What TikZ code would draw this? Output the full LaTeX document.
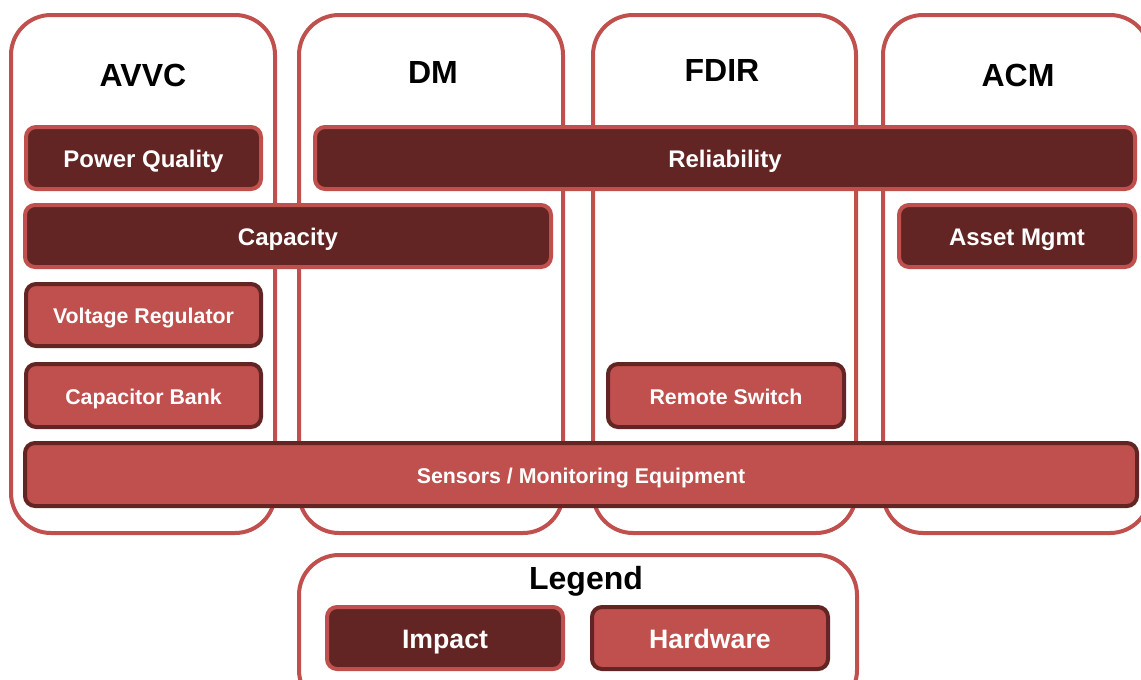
\documentclass[tikz,border=0pt]{standalone}
\usepackage{fontspec}
\setmainfont{Liberation Sans}
\definecolor{lightred}{HTML}{C0504D}
\definecolor{darkred}{HTML}{632523}
\tikzset{
  column/.style={draw=lightred, line width=3pt, rounded corners=30pt, fill=white},
  impact/.style={draw=lightred, line width=3pt, rounded corners=7.5pt, fill=darkred},
  hardware/.style={draw=darkred, line width=3pt, rounded corners=7.5pt, fill=lightred},
  title/.style={font=\fontsize{24}{28}\selectfont\bfseries, text=black},
  boxtext/.style={text=white, text depth=0pt},
  midtext/.style={boxtext, font=\fontsize{18}{21}\selectfont\bfseries, text height=14.4pt},
  smalltext/.style={boxtext, font=\fontsize{16}{19}\selectfont\bfseries, text height=12.8pt},
  bigtext/.style={boxtext, font=\fontsize{20}{24}\selectfont\bfseries, text height=16pt}
}
\begin{document}
\begin{tikzpicture}[x=0.75pt,y=-0.75pt]
    \useasboundingbox (0,0) rectangle (1141,679);
    %% Columns
    \draw[column] (11,15) rectangle (275,533);
    \draw[column] (299,15) rectangle (563,533);
    \draw[column] (593,15) rectangle (856,533);
    \draw[column] (883,15) rectangle (1150,533);
    \node[title] (avvc) at (143,75) {AVVC};
    \node[title] (dm) at (433,72) {DM};
    \node[title] (fdir) at (722,70) {FDIR};
    \node[title] (acm) at (1018,75) {ACM};
    %% Impact boxes
    \draw[impact] (26,127) rectangle node[midtext] (pq) {Power Quality} (261,189);
    \draw[impact] (315,127) rectangle node[midtext] (rel) {Reliability} (1135,189);
    \draw[impact] (25,205) rectangle node[midtext] (cap) {Capacity} (551,267);
    \draw[impact] (899,205) rectangle node[midtext] (asset) {Asset Mgmt} (1135,267);
    %% Hardware boxes
    \draw[hardware] (26,284) rectangle node[smalltext] (vreg) {Voltage Regulator} (261,346);
    \draw[hardware] (26,364) rectangle node[smalltext] (cbank) {Capacitor Bank} (261,427);
    \draw[hardware] (608,364) rectangle node[smalltext] (rswitch) {Remote Switch} (844,427);
    \draw[hardware] (25,443) rectangle node[smalltext] (sensors) {Sensors / Monitoring Equipment} (1137,506);
    %% Legend
    \draw[column] (299,555) rectangle (857,710);
    \node[title] (legend) at (586,581) {Legend};
    \draw[impact] (327,607) rectangle node[bigtext] (limpact) {Impact} (563,669);
    \draw[hardware] (592,607) rectangle node[bigtext] (lhardware) {Hardware} (828,669);
\end{tikzpicture}
\end{document}
